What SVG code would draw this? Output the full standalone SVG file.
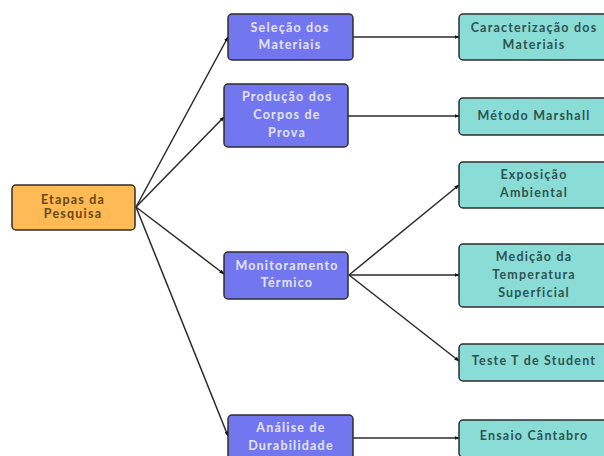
<svg xmlns="http://www.w3.org/2000/svg" width="604" height="456" viewBox="0 0 604 456">
<defs>
<style>
.box{stroke:#2e2e2e;stroke-width:1.5}
.o{fill:#FDBA55}
.b{fill:#7277EF}
.t{fill:#8ADDD7}
text{font-family:"Lato","Open Sans",sans-serif;font-size:12.5px;font-weight:bold;letter-spacing:1.2px;text-anchor:middle}
.ot{fill:#6a4814}
.bt{fill:#e4e4ff}
.tt{fill:#2f5350}
.c{fill:none;stroke:#2a2a2a;stroke-width:1.5;marker-end:url(#ah)}
</style>
<marker id="ah" viewBox="0 0 10 10" refX="9" refY="5" markerWidth="5" markerHeight="5" orient="auto" markerUnits="userSpaceOnUse">
<path d="M0,1 L10,5 L0,9 z" fill="#111"/>
</marker>
</defs>
<rect width="604" height="456" fill="#ffffff"/>
<g id="connectors">
<line class="c" x1="136" y1="207" x2="228" y2="37"/>
<line class="c" x1="136" y1="207" x2="224" y2="117"/>
<line class="c" x1="136" y1="207" x2="224" y2="274"/>
<line class="c" x1="136" y1="207" x2="228" y2="436"/>
<line class="c" x1="353" y1="37" x2="459" y2="37"/>
<line class="c" x1="348" y1="116" x2="459" y2="116"/>
<line class="c" x1="349" y1="275" x2="459" y2="185"/>
<line class="c" x1="349" y1="275" x2="459" y2="275"/>
<line class="c" x1="349" y1="275" x2="459" y2="361"/>
<line class="c" x1="353" y1="438" x2="459" y2="438"/>
</g>
<g id="etapas">
<rect class="box o" x="12" y="185" width="123" height="45" rx="4"/>
<text class="ot" x="73" y="204">Etapas da</text>
<text class="ot" x="73" y="218">Pesquisa</text>
</g>
<g id="selecao">
<rect class="box b" x="228" y="14" width="125" height="46" rx="4"/>
<text class="bt" x="290" y="32">Seleção dos</text>
<text class="bt" x="290" y="49">Materiais</text>
</g>
<g id="producao">
<rect class="box b" x="224" y="84" width="124" height="63" rx="4"/>
<text class="bt" x="287" y="101">Produção dos</text>
<text class="bt" x="287" y="119">Corpos de</text>
<text class="bt" x="287" y="137">Prova</text>
</g>
<g id="monitoramento">
<rect class="box b" x="224" y="252" width="124" height="47" rx="4"/>
<text class="bt" x="287" y="270">Monitoramento</text>
<text class="bt" x="287" y="287">Térmico</text>
</g>
<g id="analise">
<rect class="box b" x="228" y="415" width="125" height="50" rx="4"/>
<text class="bt" x="291" y="432">Análise de</text>
<text class="bt" x="291" y="450">Durabilidade</text>
</g>
<g id="caracterizacao">
<rect class="box t" x="459" y="14" width="148" height="46" rx="4"/>
<text class="tt" x="534" y="32">Caracterização dos</text>
<text class="tt" x="534" y="49">Materiais</text>
</g>
<g id="marshall">
<rect class="box t" x="459" y="98" width="148" height="37" rx="4"/>
<text class="tt" x="534" y="120">Método Marshall</text>
</g>
<g id="exposicao">
<rect class="box t" x="459" y="162" width="148" height="46" rx="4"/>
<text class="tt" x="534" y="179">Exposição</text>
<text class="tt" x="534" y="197">Ambiental</text>
</g>
<g id="medicao">
<rect class="box t" x="459" y="244" width="148" height="63" rx="4"/>
<text class="tt" x="534" y="261">Medição da</text>
<text class="tt" x="534" y="279">Temperatura</text>
<text class="tt" x="534" y="297">Superficial</text>
</g>
<g id="teste">
<rect class="box t" x="459" y="344" width="148" height="37" rx="4"/>
<text class="tt" x="534" y="365">Teste T de Student</text>
</g>
<g id="cantabro">
<rect class="box t" x="459" y="420" width="148" height="37" rx="4"/>
<text class="tt" x="534" y="440">Ensaio Cântabro</text>
</g>
</svg>
